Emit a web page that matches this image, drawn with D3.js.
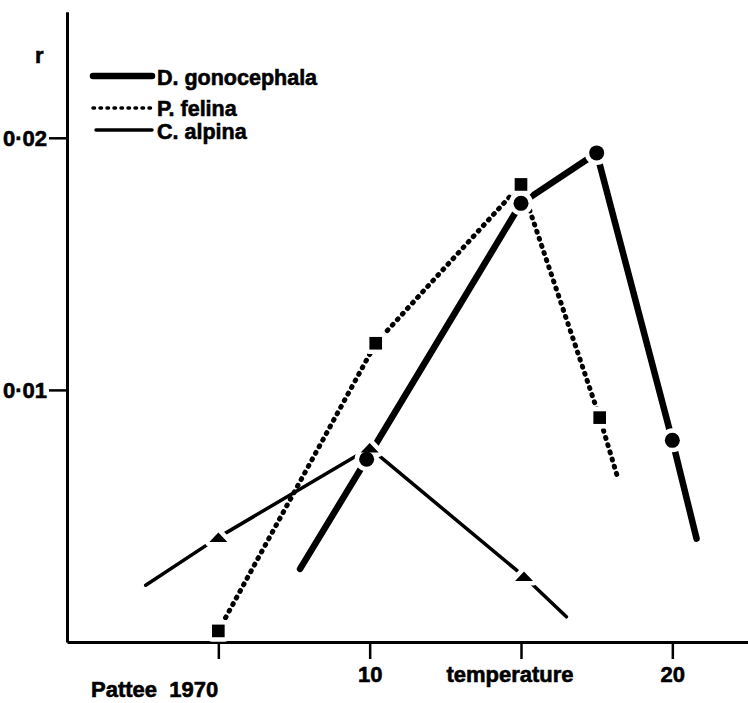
<!DOCTYPE html>
<html>
<head>
  <meta charset="UTF-8">
  <title>r vs temperature</title>
  <script src="https://d3js.org/d3.v7.min.js"></script>
  <style>
    body { margin: 0; background: #fff; }
    svg text { font-family: "Liberation Sans", Arial, sans-serif; font-weight: bold; fill: #000; stroke: #000; stroke-width: 0.6; }
  </style>
</head>
<body>
  <svg width="748" height="703"></svg>

  <script>
    // values (temperature, r); mark = 0 means plain line end
    const dgTemp = [7.7, 9.9, 15.0, 17.5, 20.0, 20.8];
    const dgR = [0.0029, 0.00725, 0.0174, 0.0194, 0.0080, 0.0041];
    const dgMark = [0, 1, 1, 1, 1, 0];

    const pfTemp = [5.0, 10.2, 15.0, 17.6, 18.2];
    const pfR = [0.00044, 0.01185, 0.01815, 0.0089, 0.0065];
    const pfMark = [1, 1, 1, 1, 0];

    const caTemp = [2.6, 5.0, 10.0, 15.1, 16.5];
    const caR = [0.00225, 0.00415, 0.0077, 0.0026, 0.001];
    const caMark = [0, 1, 1, 1, 0];

    const seriesNames = ["D. gonocephala", "P. felina", "C. alpina"];
    const xTicks = [5, 10, 15, 20];
    const xLabels = { 10: "10", 20: "20" };
    const yTicks = [0.01, 0.02];

    const toPts = (t, r, m) => t.map((d, i) => ({ t: d, r: r[i], m: m[i] }));

    const series = [
      { name: seriesNames[0], pts: toPts(dgTemp, dgR, dgMark), width: 6.5, dash: null, symbol: "circle" },
      { name: seriesNames[1], pts: toPts(pfTemp, pfR, pfMark), width: 5, dash: "1,6.5", symbol: "square" },
      { name: seriesNames[2], pts: toPts(caTemp, caR, caMark), width: 3.5, dash: null, symbol: "triangle" }
    ];

    const svg = d3.select("svg");

    const x = d3.scaleLinear().domain([0, 22.5]).range([67, 748]);
    const y = d3.scaleLinear().domain([0, 0.025]).range([642, 11.75]);

    // x axis
    const gx = svg.append("g")
      .attr("transform", `translate(0,${y(0)})`)
      .call(d3.axisBottom(x).tickValues(xTicks).tickSize(17).tickSizeOuter(0)
        .tickFormat(d => xLabels[d] || ""));
    gx.select(".domain").attr("stroke-width", 3);
    gx.selectAll(".tick line").attr("stroke-width", 2.5);
    gx.selectAll(".tick text")
      .attr("y", 40).attr("dy", 0)
      .attr("font-size", 22)
      .attr("font-family", null);

    // y axis
    const gy = svg.append("g")
      .attr("transform", `translate(${x(0)},0)`)
      .call(d3.axisLeft(y).tickValues(yTicks).tickSize(18).tickSizeOuter(0)
        .tickFormat(d => d3.format(".2f")(d).replace(".", "\u00b7")));
    gy.select(".domain").attr("stroke-width", 3);
    gy.selectAll(".tick line").attr("stroke-width", 2.5);
    gy.selectAll(".tick text")
      .attr("x", -20).attr("dy", "0.36em")
      .attr("font-size", 22)
      .attr("font-family", null);

    svg.append("text").attr("x", 35).attr("y", 63).attr("font-size", 22).text("r");
    svg.append("text").attr("x", 510).attr("y", 682).attr("font-size", 22)
      .attr("text-anchor", "middle").text("temperature");
    svg.append("text").attr("x", 91).attr("y", 697).attr("font-size", 22)
      .attr("xml:space", "preserve").text("Pattee  1970");

    const line = d3.line().x(d => x(d.t)).y(d => y(d.r));

    svg.append("g").selectAll("path")
      .data(series)
      .join("path")
      .attr("d", d => line(d.pts))
      .attr("fill", "none")
      .attr("stroke", "#000")
      .attr("stroke-width", d => d.width)
      .attr("stroke-linecap", "round")
      .attr("stroke-linejoin", "round")
      .attr("stroke-dasharray", d => d.dash);

    const shapes = {
      circle: d3.symbol(d3.symbolCircle, 177)(),
      square: d3.symbol(d3.symbolSquare, 160)(),
      triangle: "M-9,4.5L9,4.5L0,-5Z"
    };

    const marks = series.flatMap(s => s.pts.filter(p => p.m).map(p => ({ ...p, symbol: s.symbol })));

    // white halo so the lines break just before each marker
    svg.append("g").selectAll("path")
      .data(marks)
      .join("path")
      .attr("transform", d => `translate(${x(d.t)},${y(d.r)})`)
      .attr("d", d => shapes[d.symbol])
      .attr("fill", "#fff")
      .attr("stroke", "#fff")
      .attr("stroke-width", 9)
      .attr("stroke-linejoin", "round");

    svg.append("g").selectAll("path")
      .data(marks)
      .join("path")
      .attr("transform", d => `translate(${x(d.t)},${y(d.r)})`)
      .attr("d", d => shapes[d.symbol])
      .attr("fill", "#000");

    // legend
    const legend = svg.append("g").selectAll("g")
      .data(series)
      .join("g")
      .attr("transform", (d, i) => `translate(0,${[76, 108, 130][i]})`);
    legend.append("line")
      .attr("x1", (d, i) => i === 2 ? 96 : 93).attr("x2", 152)
      .attr("stroke", "#000")
      .attr("stroke-width", (d, i) => [6.5, 3.5, 3.5][i])
      .attr("stroke-linecap", "round")
      .attr("stroke-dasharray", (d, i) => i === 1 ? "1.5,5.5" : null);
    legend.append("text")
      .attr("x", 157)
      .attr("y", (d, i) => [9, 8, 9][i])
      .attr("font-size", 21.5)
      .text(d => d.name);
  </script>
</body>
</html>
